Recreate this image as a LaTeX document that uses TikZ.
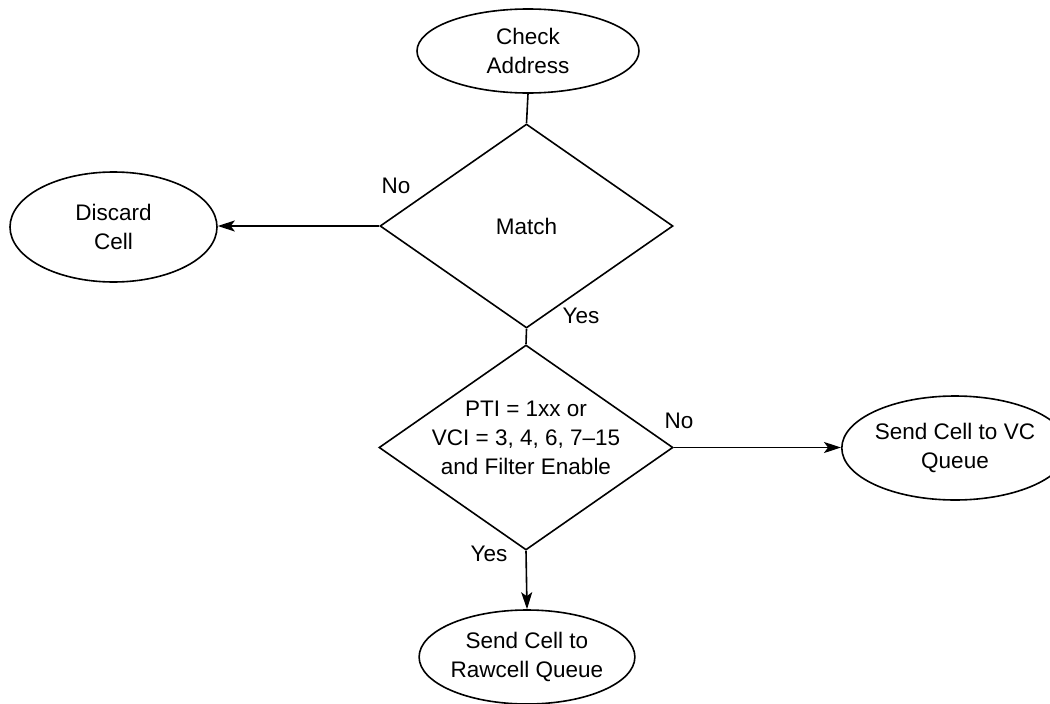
\documentclass[tikz,border=0pt]{standalone}
\usepackage{fontspec}
\setmainfont{Liberation Sans}
\usetikzlibrary{shapes.geometric,arrows.meta}
\begin{document}
\begin{tikzpicture}[x=1pt,y=-1pt,
  every node/.style={font=\fontsize{22.5}{29}\selectfont},
  oval/.style={draw,ellipse,line width=1.6pt,inner sep=0pt,align=center},
  decision/.style={draw,diamond,line width=1.6pt,inner sep=0pt},
  txt/.style={align=center,inner sep=0pt},
  conn/.style={line width=1.6pt},
  arr/.style={line width=1.6pt,-{Stealth[length=17pt,width=11pt,inset=4pt]}}]
\useasboundingbox (0,0) rectangle (1050,704);
\node[oval,minimum width=222pt,minimum height=84pt] (check) at (528,51) {Check\\Address};
\node[decision,minimum width=293pt,minimum height=204pt] (d1) at (526.5,226) {Match};
\node[oval,minimum width=207pt,minimum height=110pt] (discard) at (113.5,227) {Discard\\Cell};
\node[decision,minimum width=294pt,minimum height=205pt] (d2) at (526,447.5) {};
\node[txt] (d2text) at (526,438) {PTI = 1xx or\\VCI = 3, 4, 6, 7--15\\and Filter Enable};
\node[oval,minimum width=196pt,minimum height=104pt] (vc) at (955,448) {Send Cell to VC\\Queue};
\node[oval,minimum width=193pt,minimum height=94pt] (raw) at (527,657) {Send Cell to\\Rawcell Queue};
\node[txt] (no1) at (396,186) {No};
\node[txt] (yes1) at (581,316) {Yes};
\node[txt] (no2) at (679,421) {No};
\node[txt] (yes2) at (489,554) {Yes};
\draw[conn] (check.south) -- (d1.north);
\draw[arr] (d1.west) -- (d1.west -| discard.east);
\draw[conn] (d1.south) -- (d2.north);
\draw[arr] (d2.east) -- (d2.east -| vc.west);
\draw[arr] (d2.south) -- (raw.north);
\end{tikzpicture}
\end{document}
